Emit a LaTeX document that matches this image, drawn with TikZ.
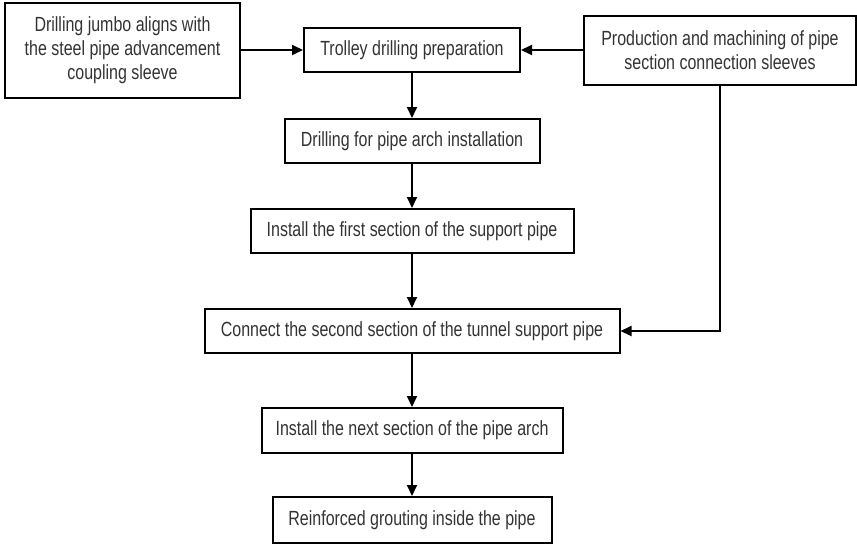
\documentclass[tikz,border=0pt]{standalone}
\usepackage{fontspec}
\setmainfont{Liberation Sans}[FakeStretch=0.78]
\usepackage{tikz}
\usetikzlibrary{arrows.meta}

\begin{document}
\begin{tikzpicture}[x=1pt,y=-1pt,
	box/.style={draw,line width=2pt,align=center,inner sep=0pt,text=black!80,font=\fontsize{20.5}{24}\selectfont},
	every path/.style={line width=2pt},
	>={Triangle[length=11pt,width=10pt]}]
	
	\useasboundingbox (0,0) rectangle (857,546);
	
	\node[box,minimum width=235pt,minimum height=95pt] (jumbo) at (122.5,50) {Drilling jumbo aligns with\\the steel pipe advancement\\coupling sleeve};
	
	\node[box,minimum width=216pt,minimum height=44pt] (trolley) at (412,50) {Trolley drilling preparation};
	
	\node[box,minimum width=272pt,minimum height=69pt] (prod) at (720,50) {Production and machining of pipe\\section connection sleeves};
	
	\node[box,minimum width=255pt,minimum height=44pt] (drill) at (412,141) {Drilling for pipe arch installation};
	
	\node[box,minimum width=323pt,minimum height=44pt] (first) at (412,231) {Install the first section of the support pipe};
	
	\node[box,minimum width=415pt,minimum height=44pt] (connect) at (412,331) {Connect the second section of the tunnel support pipe};
	
	\node[box,minimum width=301pt,minimum height=45pt] (next) at (412,430.5) {Install the next section of the pipe arch};
	
	\node[box,minimum width=279pt,minimum height=46pt] (grout) at (412,520) {Reinforced grouting inside the pipe};
	
	\draw[->] (jumbo) -- (trolley);
	\draw[->] (prod) -- (trolley);
	\draw[->] (trolley) -- (drill);
	\draw[->] (drill) -- (first);
	\draw[->] (first) -- (connect);
	\draw[->] (prod) |- (connect);
	\draw[->] (connect) -- (next);
	\draw[->] (next) -- (grout);
	
\end{tikzpicture}
\end{document}
